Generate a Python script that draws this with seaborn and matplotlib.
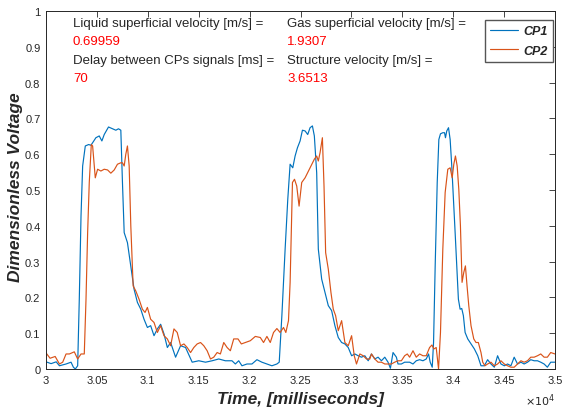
import numpy as np
import pandas as pd
import matplotlib.pyplot as plt
import seaborn as sns
from matplotlib.ticker import FuncFormatter

sns.set_theme(style="white")
plt.rcParams["font.family"] = ["Liberation Sans", "DejaVu Sans"]

# CP1 signal (time in ms, dimensionless voltage)
cp1_time = [30000, 30050, 30100, 30132, 30197, 30246, 30269, 30288, 30311, 30327, 30344, 30360,
            30386, 30419, 30441, 30458, 30490, 30523, 30549, 30572, 30614, 30653, 30686, 30712,
            30735, 30751, 30768, 30800, 30833, 30865, 30898, 30931, 30963, 30996, 31028, 31061,
            31094, 31126, 31159, 31192, 31224, 31273, 31322, 31371, 31436, 31501, 31567, 31632,
            31697, 31762, 31827, 31860, 31893, 31925, 31974, 32023, 32072, 32121, 32170, 32219,
            32268, 32291, 32317, 32349, 32375, 32398, 32424, 32447, 32470, 32496, 32519, 32545,
            32571, 32594, 32617, 32636, 32659, 32675, 32708, 32741, 32773, 32806, 32838, 32871,
            32904, 32936, 32969, 33002, 33034, 33067, 33099, 33132, 33165, 33197, 33230, 33262,
            33295, 33328, 33360, 33383, 33409, 33442, 33458, 33491, 33523, 33572, 33605, 33637,
            33670, 33703, 33735, 33758, 33774, 33794, 33807, 33823, 33843, 33859, 33875, 33898,
            33915, 33924, 33937, 33954, 33970, 33986, 34003, 34019, 34035, 34051, 34068, 34084,
            34100, 34117, 34143, 34175, 34208, 34241, 34273, 34306, 34338, 34371, 34404, 34436,
            34469, 34502, 34534, 34567, 34599, 34632, 34665, 34697, 34730, 34762, 34795, 34828,
            34860, 34893, 34925, 34958, 35000]
cp1_volt = [0.020, 0.015, 0.020, 0.009, 0.014, 0.019, 0.005, 0.000, 0.009, 0.195, 0.428, 0.567,
            0.623, 0.627, 0.625, 0.632, 0.646, 0.651, 0.637, 0.655, 0.676, 0.671, 0.667, 0.671,
            0.667, 0.521, 0.381, 0.353, 0.288, 0.223, 0.186, 0.167, 0.139, 0.116, 0.121, 0.093,
            0.112, 0.125, 0.098, 0.060, 0.074, 0.033, 0.065, 0.060, 0.019, 0.023, 0.019, 0.023,
            0.028, 0.023, 0.023, 0.014, 0.023, 0.009, 0.014, 0.014, 0.026, 0.019, 0.014, 0.009,
            0.014, 0.019, 0.149, 0.335, 0.474, 0.572, 0.562, 0.595, 0.618, 0.637, 0.667, 0.665,
            0.655, 0.674, 0.679, 0.651, 0.548, 0.335, 0.251, 0.214, 0.177, 0.163, 0.121, 0.088,
            0.074, 0.070, 0.060, 0.037, 0.042, 0.037, 0.033, 0.037, 0.023, 0.042, 0.028, 0.033,
            0.023, 0.033, 0.019, 0.002, 0.046, 0.033, 0.014, 0.014, 0.019, 0.019, 0.014, 0.023,
            0.026, 0.023, 0.028, 0.042, 0.019, 0.005, 0.074, 0.288, 0.521, 0.641, 0.657, 0.660,
            0.660, 0.646, 0.665, 0.674, 0.641, 0.567, 0.474, 0.381, 0.288, 0.195, 0.167, 0.169,
            0.149, 0.102, 0.084, 0.070, 0.056, 0.037, 0.009, 0.009, 0.026, 0.014, 0.005, 0.037,
            0.014, 0.009, 0.014, 0.009, 0.033, 0.014, 0.019, 0.014, 0.019, 0.026, 0.023, 0.023,
            0.019, 0.014, 0.005, 0.019, 0.019]

# CP2 signal
cp2_time = [30000, 30040, 30090, 30132, 30164, 30197, 30230, 30278, 30311, 30344, 30376, 30393,
            30409, 30425, 30445, 30458, 30474, 30484, 30507, 30539, 30572, 30605, 30637, 30670,
            30702, 30735, 30751, 30768, 30784, 30800, 30817, 30833, 30856, 30882, 30914, 30947,
            30973, 30996, 31028, 31061, 31094, 31126, 31159, 31192, 31224, 31257, 31289, 31322,
            31355, 31387, 31420, 31452, 31485, 31518, 31550, 31583, 31616, 31648, 31681, 31713,
            31746, 31779, 31811, 31844, 31886, 31919, 31958, 32007, 32056, 32105, 32137, 32170,
            32203, 32235, 32268, 32300, 32333, 32356, 32382, 32398, 32421, 32441, 32463, 32486,
            32512, 32545, 32578, 32610, 32636, 32659, 32675, 32692, 32715, 32731, 32747, 32773,
            32799, 32822, 32845, 32871, 32904, 32936, 32969, 33002, 33028, 33050, 33083, 33116,
            33148, 33181, 33197, 33230, 33262, 33295, 33328, 33360, 33393, 33425, 33458, 33491,
            33523, 33549, 33572, 33605, 33637, 33670, 33703, 33735, 33768, 33791, 33810, 33833,
            33856, 33875, 33898, 33921, 33947, 33970, 33990, 34006, 34022, 34039, 34055, 34071,
            34087, 34104, 34120, 34136, 34153, 34175, 34202, 34224, 34247, 34273, 34290, 34312,
            34338, 34371, 34404, 34436, 34469, 34502, 34534, 34567, 34599, 34632, 34665, 34697,
            34730, 34762, 34795, 34828, 34860, 34893, 34925, 34958, 35000]
cp2_volt = [0.045, 0.030, 0.035, 0.014, 0.019, 0.042, 0.042, 0.048, 0.028, 0.042, 0.042, 0.195,
            0.381, 0.521, 0.627, 0.623, 0.567, 0.534, 0.558, 0.553, 0.558, 0.556, 0.547, 0.556,
            0.572, 0.576, 0.576, 0.567, 0.600, 0.623, 0.567, 0.400, 0.232, 0.218, 0.195, 0.167,
            0.158, 0.172, 0.139, 0.130, 0.102, 0.121, 0.093, 0.084, 0.065, 0.112, 0.102, 0.065,
            0.070, 0.060, 0.046, 0.060, 0.070, 0.074, 0.065, 0.051, 0.028, 0.033, 0.046, 0.042,
            0.074, 0.060, 0.051, 0.084, 0.084, 0.070, 0.074, 0.079, 0.091, 0.088, 0.074, 0.091,
            0.074, 0.102, 0.113, 0.102, 0.116, 0.102, 0.135, 0.242, 0.521, 0.530, 0.511, 0.455,
            0.521, 0.534, 0.553, 0.572, 0.586, 0.595, 0.581, 0.604, 0.646, 0.511, 0.325, 0.279,
            0.214, 0.167, 0.149, 0.107, 0.135, 0.074, 0.065, 0.093, 0.037, 0.014, 0.042, 0.037,
            0.028, 0.028, 0.042, 0.028, 0.019, 0.019, 0.014, 0.014, 0.014, 0.019, 0.023, 0.023,
            0.037, 0.042, 0.033, 0.051, 0.033, 0.042, 0.037, 0.037, 0.060, 0.067, 0.056, 0.060,
            0.000, 0.102, 0.335, 0.493, 0.558, 0.562, 0.534, 0.572, 0.595, 0.567, 0.502, 0.400,
            0.242, 0.270, 0.288, 0.232, 0.177, 0.121, 0.084, 0.074, 0.074, 0.046, 0.019, 0.009,
            0.014, 0.019, 0.009, 0.014, 0.023, 0.014, 0.009, 0.005, 0.005, 0.014, 0.023, 0.019,
            0.023, 0.033, 0.033, 0.037, 0.042, 0.033, 0.033, 0.046, 0.042]

info_labels = ["Liquid superficial velocity [m/s] =", "Gas superficial velocity [m/s] =",
               "Delay between CPs signals [ms] =", "Structure velocity [m/s] ="]
info_values = ["0.69959", "1.9307", "70", "3.6513"]

df = pd.concat([
    pd.DataFrame({"time": cp1_time, "volt": cp1_volt, "probe": "CP1"}),
    pd.DataFrame({"time": cp2_time, "volt": cp2_volt, "probe": "CP2"}),
])

fig = plt.figure(figsize=(5.63, 4.14), dpi=100)
ax = fig.add_axes([46 / 563, 1 - 370 / 414, 509 / 563, 358 / 414])

sns.lineplot(data=df, x="time", y="volt", hue="probe", estimator=None, sort=False,
             palette={"CP1": "#0072BD", "CP2": "#D95319"}, linewidth=0.85, ax=ax)

ax.set_xlim(30000, 35000)
ax.set_ylim(0, 1)
ax.set_xticks(np.arange(30000, 35001, 500))
ax.set_yticks(np.arange(0, 1.01, 0.1))
ax.xaxis.set_major_formatter(FuncFormatter(lambda v, p: "%g" % round(v / 1e4, 3)))
ax.yaxis.set_major_formatter(FuncFormatter(lambda v, p: "%g" % round(v, 2)))
ax.tick_params(direction="in", length=4, width=0.6, top=True, right=True,
               labelsize=8, colors="#262626", pad=4)
for s in ax.spines.values():
    s.set_color("#262626")
    s.set_linewidth(0.7)

ax.set_xlabel("Time, [milliseconds]", fontsize=12.5, fontweight="bold", fontstyle="italic",
              color="#262626")
ax.set_ylabel("Dimensionless Voltage", fontsize=12.5, fontweight="bold", fontstyle="italic",
              color="#262626")
ax.xaxis.set_label_coords(0.5, -0.062)
ax.yaxis.set_label_coords(-0.046, 0.51)
ax.text(1.0, -0.085, r"$\times10^{4}$", transform=ax.transAxes, ha="right", va="center",
        fontsize=8, color="#262626")

# info box text
xs = [0.053, 0.474, 0.053, 0.474]
ys = [0.966, 0.966, 0.863, 0.863]
for lab, val, x, y in zip(info_labels, info_values, xs, ys):
    ax.text(x, y, lab, transform=ax.transAxes, ha="left", va="center", fontsize=9.5, color="#262626")
    ax.text(x, y - 0.051, val, transform=ax.transAxes, ha="left", va="center", fontsize=9.5, color="red")

leg = ax.legend(loc="upper right", bbox_to_anchor=(0.996, 0.976), borderaxespad=0,
                fancybox=False, edgecolor="#555555", framealpha=1, handlelength=2.2,
                handletextpad=0.4, borderpad=0.45, labelspacing=0.6,
                prop={"weight": "bold", "style": "italic", "size": 9})
leg.get_frame().set_linewidth(1.0)

fig.savefig("out.png", dpi=100)
